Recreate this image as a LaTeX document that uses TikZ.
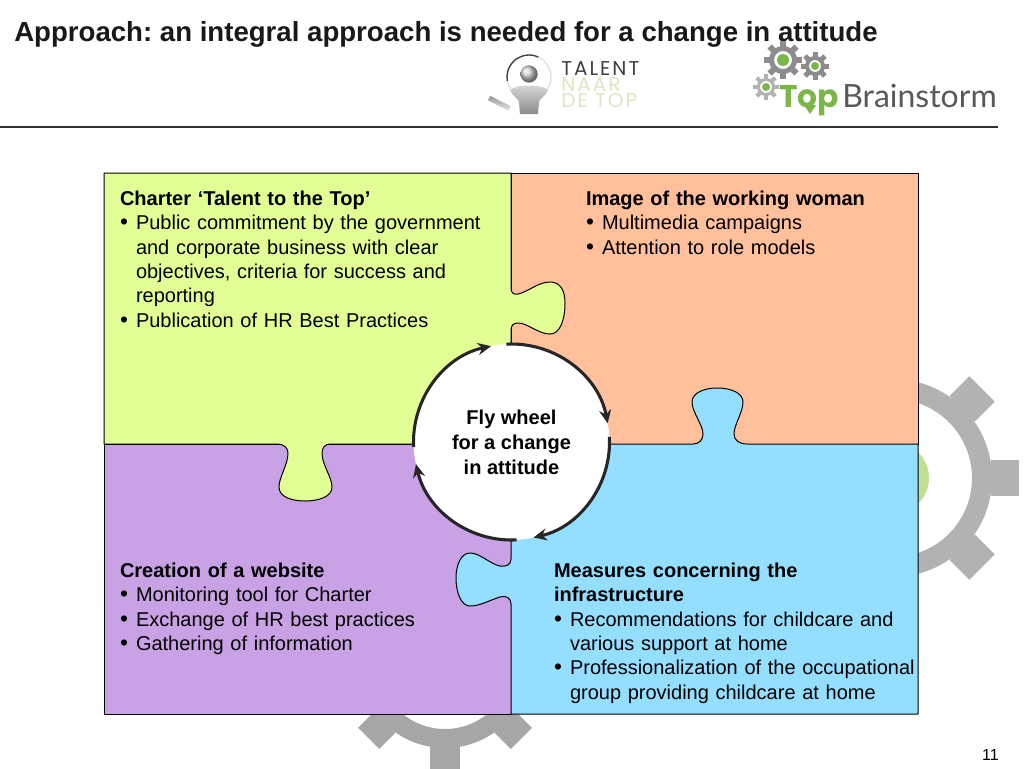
\documentclass[tikz,border=0pt]{standalone}
\usepackage{fontspec}
\setmainfont{Liberation Sans}
\newfontfamily\logofont{Lato}
\newfontfamily\topfont{Poppins}
\usetikzlibrary{arrows.meta}
\definecolor{charteryellow}{HTML}{E2FF96}
\definecolor{imageorange}{HTML}{FFC09B}
\definecolor{sitepurple}{HTML}{C8A2E4}
\definecolor{infrablue}{HTML}{94DFFF}
\definecolor{logogreen}{HTML}{7AB648}
\definecolor{naargreen}{HTML}{DDE6C4}
\definecolor{hubgreen}{HTML}{BEDF94}
\tikzset{
  piece/.style={draw=black,line width=0.75pt,line join=round},
  paneltext/.style={anchor=north west,inner sep=0pt,outer sep=0pt,align=left,
    font=\fontsize{15}{18.25}\selectfont},
  wheelarc/.style={draw=black!85,line width=2.3pt,-{Stealth[length=10pt,width=9pt]}},
  talentline/.style={anchor=base west,inner sep=0pt,font=\topfont\addfontfeature{LetterSpace=10}\fontsize{15}{15}\selectfont},
}
\newcommand{\bitem}[1]{\par\hangindent=12pt\hangafter=1\noindent\makebox[12pt][l]{\fontsize{17}{18}\selectfont\textbullet}#1\par}
% centre x, centre y, inner radius, outer radius, tip radius, tooth width, colour
\newcommand{\cogwheel}[7]{
  \fill[#7,even odd rule] (#1,#2) circle[radius=#4*0.75pt] (#1,#2) circle[radius=#3*0.75pt];
  \foreach \a in {0,45,...,315}
    \fill[#7,rotate around={\a:(#1,#2)}] (#1+#4-1,#2-#6/2) rectangle (#1+#5,#2+#6/2);
}
\begin{document}
\begin{tikzpicture}[x=0.75pt,y=-0.75pt]
\clip (0,0) rectangle (1024,768);
\fill[white] (0,0) rectangle (1024,768);
% Back gears
\fill[hubgreen] (893,478) circle[radius=27pt];
\cogwheel{893}{478}{79}{99}{126}{36}{black!30}
\cogwheel{445}{662}{67}{86}{108}{30}{black!35}
% Header
\node[anchor=base west,inner sep=0pt,font=\fontsize{20.7}{24}\selectfont\bfseries\frenchspacing,text=black!90] (headline) at (14,41)
  {Approach: an integral approach is needed for a change in attitude};
\draw[black!80,line width=1.5pt] (0,127) -- (998,127);
% Talent logo
\shade[top color=black!40,bottom color=black!10,rotate around={-27:(489,98)}] (489,95.5) rectangle (512,100.5);
\draw[black!12,line width=1pt] (529,77) circle[radius=16.5pt];
\draw[black!75,line width=1pt] (529,77) ++(190:16.5pt) arc[start angle=190,end angle=65,radius=16.5pt];
\shade[top color=black!15,bottom color=black!45] (510,90) .. controls (516,84) and (542,84) .. (548,90)
  .. controls (546,96) and (540,98) .. (539,102) -- (538,114) -- (520,114) -- (519,102)
  .. controls (518,98) and (512,96) .. (510,90) -- cycle;
\shade[ball color=black!18] (529,74) circle[radius=6.5pt];
\node[talentline,text=black!75] (talent) at (561,75) {TALENT};
\node[talentline,text=naargreen] (naar) at (561,91) {NAAR};
\node[talentline,text=naargreen] (detop) at (561,107) {DE TOP};
% Brainstorm logo
\cogwheel{783}{60}{9}{14}{19}{6}{black!45}
\fill[logogreen] (783,60) circle[radius=4.5pt];
\cogwheel{815}{66}{6}{10}{14}{5}{black!45}
\fill[logogreen] (815,66) circle[radius=3pt];
\cogwheel{766}{87}{6}{9}{13}{4}{black!30}
\fill[logogreen] (766,87) circle[radius=3pt];
\node[anchor=base west,inner sep=0pt,font=\topfont\bfseries\fontsize{23.5}{26}\selectfont,text=logogreen] (toplogo) at (779,107) {Top};
\fill[logogreen] (804,105) -- (816,105) -- (810,114) -- cycle;
\node[anchor=base west,inner sep=0pt,font=\logofont\fontsize{24}{26}\selectfont,text=black!65] (brainstorm) at (842,107) {Brainstorm};
% Puzzle
\fill[imageorange] (511,173) rectangle (918,444);
\fill[sitepurple] (104,444) rectangle (511,714);
\draw[piece] (511,173) rectangle (918,444);
\draw[piece] (104,444) rectangle (511,714);
\draw[piece,fill=infrablue] (511,444) -- (693,444)
  .. controls (699,444) and (703,440) .. (703,434)
  .. controls (703,425) and (692,412) .. (692,402)
  .. controls (692,393) and (704,388) .. (717,388)
  .. controls (731,388) and (743,393) .. (743,402)
  .. controls (743,412) and (734,425) .. (734,434)
  .. controls (734,440) and (739,444) .. (747,444)
  -- (918,444) -- (918,714) -- (511,714) -- (511,604)
  .. controls (511,598) and (506,595) .. (500,597)
  .. controls (490,600) and (480,606) .. (470,606)
  .. controls (461,606) and (456,592) .. (456,578)
  .. controls (456,565) and (461,553) .. (470,553)
  .. controls (480,553) and (490,564) .. (500,566)
  .. controls (506,567) and (511,565) .. (511,559) -- cycle;
\draw[piece,fill=charteryellow] (104,173) -- (511,173) -- (511,288)
  .. controls (511,293) and (514,295) .. (518,294)
  .. controls (528,292) and (538,282) .. (550,282)
  .. controls (560,282) and (565,290) .. (565,303)
  .. controls (565,320) and (560,334) .. (550,334)
  .. controls (538,334) and (528,323) .. (518,323)
  .. controls (514,323) and (511,325) .. (511,330)
  -- (511,444) -- (330,444)
  .. controls (325,444) and (322,448) .. (322,453)
  .. controls (322,465) and (332,477) .. (332,487)
  .. controls (332,497) and (318,501) .. (305,501)
  .. controls (292,501) and (279,497) .. (279,487)
  .. controls (279,477) and (288,465) .. (288,453)
  .. controls (288,448) and (284,444) .. (277,444)
  -- (104,444) -- cycle;
% Panel texts
\node[paneltext,text width=295pt] (charter) at (120,191) {\textbf{Charter ‘Talent to the Top’}
  \bitem{Public commitment by the government\newline and corporate business with clear\newline objectives, criteria for success and\newline reporting}
  \bitem{Publication of HR Best Practices}};
\node[paneltext,text width=250pt] (imagework) at (586,191) {\textbf{Image of the working woman}
  \bitem{Multimedia campaigns}
  \bitem{Attention to role models}};
\node[paneltext,text width=250pt] (website) at (120,563) {\textbf{Creation of a website}
  \bitem{Monitoring tool for Charter}
  \bitem{Exchange of HR best practices}
  \bitem{Gathering of information}};
\node[paneltext,text width=290pt] (infra) at (554,563) {\textbf{Measures concerning the\newline infrastructure}
  \bitem{Recommendations for childcare and\newline various support at home}
  \bitem{Professionalization of the occupational\newline group providing childcare at home}};
% Fly wheel
\node[circle,fill=white,inner sep=0pt,outer sep=0pt,minimum size=147pt,align=center,
  font=\fontsize{15}{18.75}\selectfont\bfseries] (wheel) at (511.5,442) {Fly wheel\\for a change\\in attitude};
\draw[wheelarc] (wheel.93) arc[start angle=93,end angle=11,radius=73.5pt];
\draw[wheelarc] (wheel.3) arc[start angle=3,end angle=-77,radius=73.5pt];
\draw[wheelarc] (wheel.-87) arc[start angle=-87,end angle=-167,radius=73.5pt];
\draw[wheelarc] (wheel.183) arc[start angle=183,end angle=102,radius=73.5pt];
% Page number
\node[anchor=base east,inner sep=0pt,font=\fontsize{12}{14}\selectfont] (pagenum) at (999,760) {11};
\end{tikzpicture}
\end{document}
